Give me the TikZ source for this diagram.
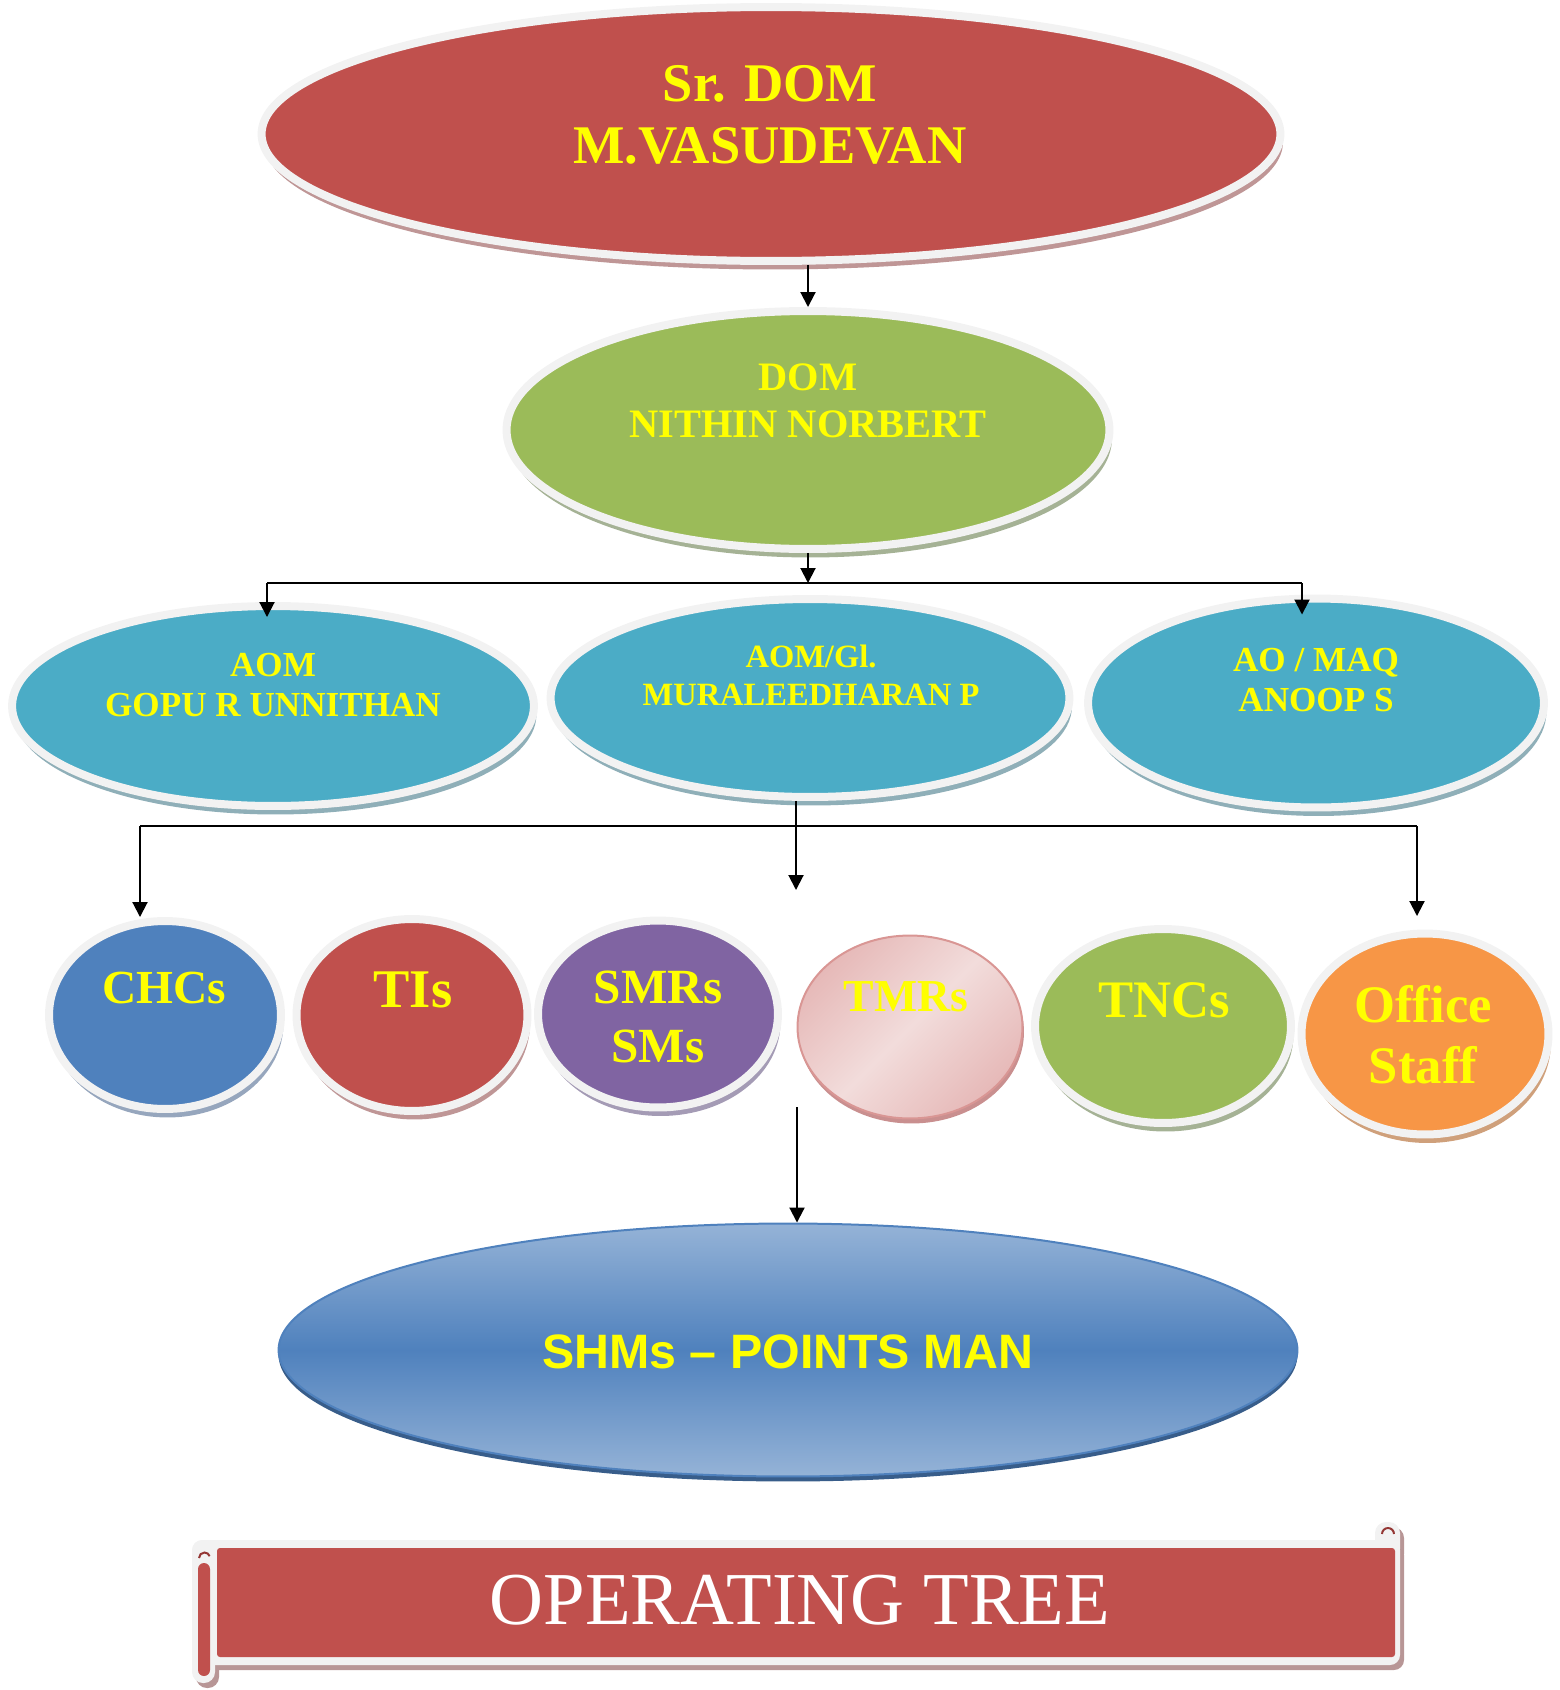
\documentclass[tikz,border=0pt]{standalone}
\usepackage{fontspec}
\setmainfont{Liberation Serif}
\setsansfont{Liberation Sans}
\usetikzlibrary{shapes.geometric,shadows,arrows.meta,calc}

\definecolor{rim}{HTML}{F2F2F2}
\definecolor{yel}{HTML}{FFFF00}
\definecolor{brick}{HTML}{C0504D}
\definecolor{leaf}{HTML}{9BBB59}
\definecolor{teal}{HTML}{4BACC6}
\definecolor{steel}{HTML}{4F81BD}
\definecolor{plum}{HTML}{8064A2}
\definecolor{peach}{HTML}{F79646}
\definecolor{sky}{HTML}{95B3D7}
\definecolor{shRed}{HTML}{BF9696}
\definecolor{shLeaf}{HTML}{A5B295}
\definecolor{shTeal}{HTML}{8FAFB8}
\definecolor{shSteel}{HTML}{96A6BD}
\definecolor{shPlum}{HTML}{A49BB5}
\definecolor{shPeach}{HTML}{CFA07B}
\definecolor{curl}{HTML}{943634}

\newcommand\txtsize[2]{\fontsize{#1}{#2}\selectfont}

\tikzset{
  disc/.style={ellipse, draw=rim, line width=0.16cm, inner sep=0pt,
    drop shadow={shadow xshift=0.05cm, shadow yshift=-0.17cm, fill=#1, opacity=1}},
  lbl/.style 2 args={text=yel, align=center, inner sep=0pt, font=\bfseries\txtsize{#1}{#2}},
  link/.style={-{Triangle[length=0.3cm,width=0.3cm]}, line width=0.04cm},
  wire/.style={line width=0.04cm},
}

\begin{document}
\begin{tikzpicture}[x=0.02cm, y=-0.02cm] % one unit = one pixel, y downwards
  \useasboundingbox (0,0) rectangle (1559,1690);

  % Top of the tree
  \node[disc=shRed, fill=brick, minimum width=20.38cm, minimum height=5.08cm] (srdom) at (771,134) {};
  \node[lbl={31}{35}] (srdom-txt) at (770,115) {Sr. DOM\\M.VASUDEVAN};

  \node[disc=shLeaf, fill=leaf, minimum width=12.06cm, minimum height=4.76cm] (dom) at (808,430) {};
  \node[lbl={23}{27}] (dom-txt) at (808,401) {DOM\\NITHIN NORBERT};

  % Second level
  \node[disc=shTeal, fill=teal, minimum width=10.44cm, minimum height=4.00cm] (aom) at (273,706) {};
  \node[lbl={20}{23.3}] (aom-txt) at (273,685) {AOM\\GOPU R UNNITHAN};

  \node[disc=shTeal, fill=teal, minimum width=10.38cm, minimum height=3.96cm] (aomgl) at (810,698) {};
  \node[lbl={18.5}{21.6}] (aomgl-txt) at (811,675) {AOM/Gl.\\MURALEEDHARAN P};

  \node[disc=shTeal, fill=teal, minimum width=9.12cm, minimum height=4.18cm] (aomaq) at (1316,703) {};
  \node[lbl={20}{22.8}] (aomaq-txt) at (1316,680) {AO / MAQ\\ANOOP S};

  % Row of staff groups
  \node[disc=shSteel, fill=steel, minimum width=4.64cm, minimum height=3.76cm] (chcs) at (165,1015) {};
  \node[lbl={27}{31}] (chcs-txt) at (164,988) {CHCs};

  \node[disc=shRed, fill=brick, minimum width=4.62cm, minimum height=3.84cm] (tis) at (412,1015) {};
  \node[lbl={31}{35}] (tis-txt) at (413,990) {TIs};

  \node[disc=shPlum, fill=plum, minimum width=4.80cm, minimum height=3.74cm] (smrs) at (658,1014) {};
  \node[lbl={28}{33.6}] (smrs-txt) at (658,1017) {SMRs\\SMs};

  \node[ellipse, draw={rgb,255:red,217;green,150;blue,148}, line width=0.04cm, inner sep=0pt,
    top color={rgb,255:red,230;green,185;blue,184}, bottom color={rgb,255:red,230;green,185;blue,184},
    middle color={rgb,255:red,242;green,220;blue,219}, shading angle=45,
    drop shadow={shadow xshift=0.03cm, shadow yshift=-0.1cm, fill={rgb,255:red,201;green,143;blue,143}, opacity=1},
    minimum width=4.50cm, minimum height=3.66cm] (tmrs) at (910,1027) {};
  \node[lbl={26}{30}] (tmrs-txt) at (906,997) {TMRs};

  \node[disc=shLeaf, fill=leaf, minimum width=5.12cm, minimum height=3.88cm] (tncs) at (1163,1026) {};
  \node[lbl={30}{34}] (tncs-txt) at (1164,1000) {TNCs};

  \node[disc=shPeach, fill=peach, minimum width=4.94cm, minimum height=4.02cm] (office) at (1425,1034) {};
  \node[lbl={30}{34.7}] (office-txt) at (1423,1035) {Office\\Staff};

  % Bottom of the tree
  \node[ellipse, draw=steel, line width=0.04cm, inner sep=0pt,
    top color=sky, bottom color=sky, middle color=steel,
    drop shadow={shadow xshift=0cm, shadow yshift=-0.1cm, fill={rgb,255:red,56;green,93;blue,138}, opacity=1},
    minimum width=20.38cm, minimum height=5.06cm] (shms) at (788,1350) {};
  \node[text=yel, inner sep=0pt, font=\sffamily\bfseries\txtsize{27.5}{32}] (shms-txt) at (788,1352) {SHMs – POINTS MAN};

  % Connectors
  \draw[link] (srdom.south -| dom.north) -- (dom.north);

  \coordinate (bus1L) at (267,583);
  \coordinate (bus1R) at (1302,583);
  \draw[wire] (bus1L) -- (bus1R);
  \draw[link] (dom.south) -- (dom.south |- bus1L);
  \draw[link, shorten >=-0.3cm] (bus1L) -- (aom.north -| bus1L);
  \draw[link, shorten >=-0.4cm] (bus1R) -- (aomaq.north -| bus1R);

  \coordinate (drop) at (796,890);
  \coordinate (bus2L) at (140,826);
  \coordinate (bus2R) at (1417,826);
  \draw[link] (aomgl.south -| drop) -- (drop);
  \draw[wire] (bus2L) -- (bus2R);
  \draw[link] (bus2L) -- (chcs.north -| bus2L);
  \draw[link, shorten >=0.27cm] (bus2R) -- (office.north -| bus2R);

  \coordinate (rise) at (797,1107);
  \draw[link] (rise) -- (shms.north -| rise);

  % Banner
  \begin{scope}[shift={(4,5)}, fill={rgb,255:red,184;green,150;blue,150}]
    \fill[rounded corners=0.2cm] (192,1540) rectangle (1400,1665);
    \fill[rounded corners=0.22cm] (192,1540) rectangle (215,1683);
    \fill[rounded corners=0.22cm] (1375,1522) rectangle (1400,1560);
  \end{scope}
  \fill[rim, rounded corners=0.2cm] (192,1540) rectangle (1400,1665);
  \fill[rim, rounded corners=0.22cm] (192,1540) rectangle (215,1683);
  \fill[rim, rounded corners=0.22cm] (1375,1522) rectangle (1400,1560);
  \fill[brick, rounded corners=0.06cm] (217,1548) rectangle (1395,1657);
  \fill[brick, rounded corners=0.12cm] (198,1563) rectangle (210,1676);
  \draw[curl, line width=0.04cm] (199,1558) arc[start angle=180, end angle=20, radius=0.11cm];
  \draw[curl, line width=0.04cm] (1382,1534) arc[start angle=180, end angle=0, radius=0.12cm];
  \node[text=white, inner sep=0pt, font=\txtsize{42.5}{48}] (title) at (800,1600) {OPERATING TREE};
\end{tikzpicture}
\end{document}
